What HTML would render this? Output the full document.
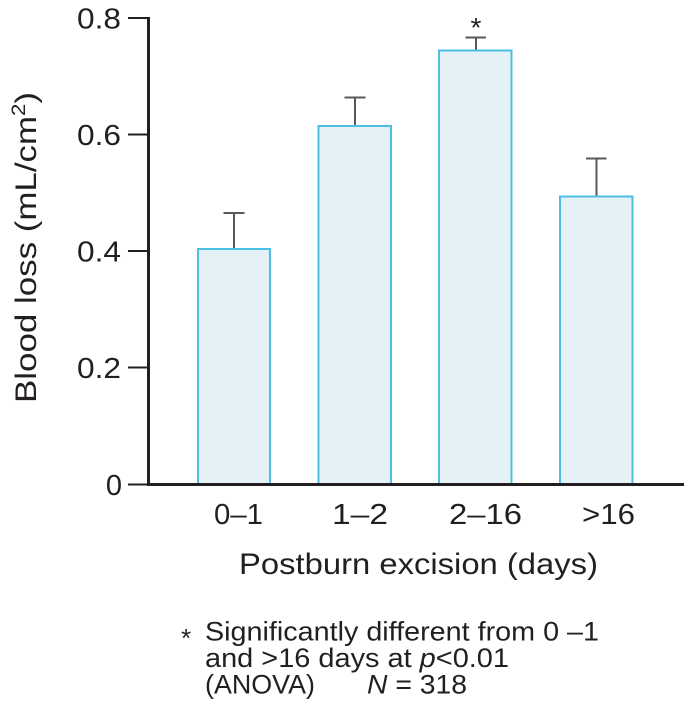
<!DOCTYPE html>
<html>
<head>
<meta charset="utf-8">
<style>
  html, body { margin: 0; padding: 0; background: #ffffff; }
  svg { display: block; }
  text { font-family: "Liberation Sans", "DejaVu Sans", sans-serif; fill: #231f20; }
</style>
</head>
<body>
<svg width="684" height="717" viewBox="0 0 684 717" xmlns="http://www.w3.org/2000/svg">
  <!-- Bars -->
  <g fill="#e4f1f7" stroke="#4cbfe2" stroke-width="2">
    <rect x="198" y="249" width="72" height="235.5"/>
    <rect x="318.5" y="126" width="72.5" height="358.5"/>
    <rect x="439" y="50.5" width="72.5" height="434"/>
    <rect x="560" y="196.5" width="72.5" height="288"/>
  </g>
  <!-- Error bars -->
  <g stroke="#58595b" stroke-width="2" fill="none">
    <line x1="234" y1="248" x2="234" y2="213"/>
    <line x1="223.5" y1="213" x2="244.5" y2="213"/>
    <line x1="355" y1="125" x2="355" y2="97.5"/>
    <line x1="344.5" y1="97.5" x2="365.5" y2="97.5"/>
    <line x1="476" y1="49.5" x2="476" y2="37.5"/>
    <line x1="465.5" y1="37.5" x2="486" y2="37.5"/>
    <line x1="596.5" y1="195.5" x2="596.5" y2="158.5"/>
    <line x1="586" y1="158.5" x2="606.5" y2="158.5"/>
  </g>
  <!-- Axes -->
  <g stroke="#231f20" fill="none">
    <line x1="148.5" y1="17" x2="148.5" y2="486" stroke-width="3"/>
    <line x1="147" y1="484.5" x2="684" y2="484.5" stroke-width="3"/>
    <g stroke-width="2">
      <line x1="128" y1="18" x2="148" y2="18"/>
      <line x1="128" y1="134.5" x2="148" y2="134.5"/>
      <line x1="128" y1="251" x2="148" y2="251"/>
      <line x1="128" y1="367.5" x2="148" y2="367.5"/>
      <line x1="128" y1="484.5" x2="148" y2="484.5"/>
    </g>
  </g>
  <!-- Y tick labels -->
  <g font-size="29" text-anchor="end">
    <text x="121" y="28.5" textLength="44" lengthAdjust="spacingAndGlyphs">0.8</text>
    <text x="121" y="145" textLength="44" lengthAdjust="spacingAndGlyphs">0.6</text>
    <text x="121" y="261.5" textLength="44" lengthAdjust="spacingAndGlyphs">0.4</text>
    <text x="121" y="378" textLength="44" lengthAdjust="spacingAndGlyphs">0.2</text>
    <text x="122" y="495">0</text>
  </g>
  <!-- X tick labels -->
  <g font-size="29">
    <text x="214" y="524" textLength="49" lengthAdjust="spacingAndGlyphs">0–1</text>
    <text x="332" y="524" textLength="56" lengthAdjust="spacingAndGlyphs">1–2</text>
    <text x="449" y="524" textLength="73" lengthAdjust="spacingAndGlyphs">2–16</text>
    <text x="582" y="524" textLength="53" lengthAdjust="spacingAndGlyphs">&gt;16</text>
  </g>
  <!-- X axis title -->
  <text x="239" y="574" font-size="29.5" textLength="359" lengthAdjust="spacingAndGlyphs">Postburn excision (days)</text>
  <!-- Y axis title -->
  <text transform="translate(36,247.5) rotate(-90)" x="0" y="0" font-size="30" text-anchor="middle" textLength="311" lengthAdjust="spacingAndGlyphs">Blood loss (mL/cm<tspan font-size="19" dy="-11">2</tspan><tspan dy="11">)</tspan></text>
  <!-- Significance star -->
  <text x="476" y="37" font-size="28" text-anchor="middle">*</text>
  <!-- Footnote -->
  <text x="186" y="647" font-size="26" text-anchor="middle">*</text>
  <g font-size="27">
    <text x="205" y="640.5" textLength="394" lengthAdjust="spacingAndGlyphs">Significantly different from 0 –1</text>
    <text x="205" y="667" textLength="304" lengthAdjust="spacingAndGlyphs">and &gt;16 days at <tspan font-style="italic">p</tspan>&lt;0.01</text>
    <text x="205" y="693.5" textLength="110" lengthAdjust="spacingAndGlyphs">(ANOVA)</text>
    <text x="367" y="693.5" textLength="100" lengthAdjust="spacingAndGlyphs"><tspan font-style="italic">N</tspan> = 318</text>
  </g>
</svg>
</body>
</html>
